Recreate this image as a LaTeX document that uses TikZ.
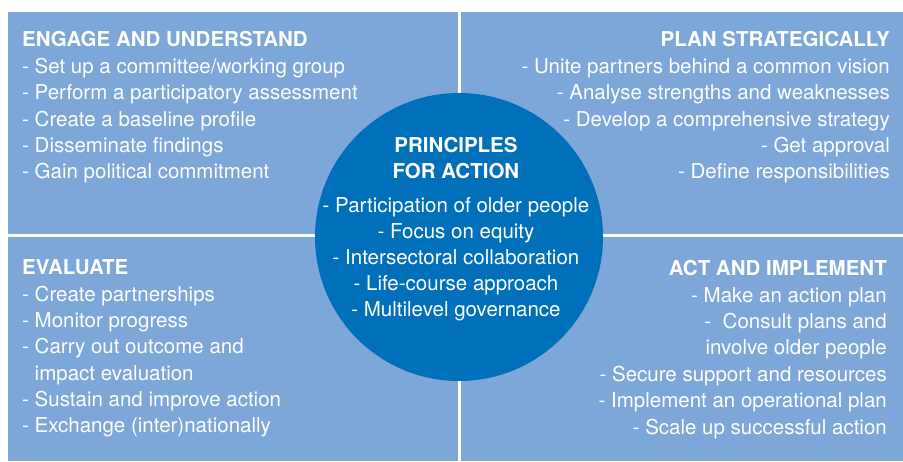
\documentclass[tikz,border=0pt]{standalone}
\usepackage{fontspec}
\setmainfont{TeX Gyre Heros}
\definecolor{quadblue}{RGB}{125,167,216}
\definecolor{hubblue}{RGB}{0,112,186}
\tikzset{
  steptext/.style={text=white, inner sep=0pt, font=\fontsize{20.5}{26.4}\selectfont},
  hubdisc/.style={circle, fill=hubblue, minimum size=288pt, inner sep=0pt},
}

\begin{document}
\begin{tikzpicture}[x=1pt,y=1pt]
  \useasboundingbox (0,0) rectangle (903,461);
  % quadrants
  \fill[quadblue] (8,0) rectangle (903,449);
  \draw[white, line width=3pt] (459,0) -- (459,449);
  \draw[white, line width=3pt] (8,225) -- (903,225);
  % centre
  \node[hubdisc] (hub) at (459,224) {};
  \node[steptext, font=\fontsize{20.5}{26}\selectfont, align=center, anchor=base] %
    (principles) at (456,144)
    {\textbf{PRINCIPLES}\\\textbf{FOR ACTION}\\[8pt]
     - Participation of older people\\- Focus on equity\\
     - Intersectoral collaboration\\- Life-course approach\\
     - Multilevel governance};
  % texts of the quadrants (anchored on their last line)
  \node[steptext, align=left, anchor=base west] (engage) at (22,282) %
    {\textbf{ENGAGE AND UNDERSTAND}\\- Set up a committee/working group\\
     - Perform a participatory assessment\\- Create a baseline profile\\
     - Disseminate findings\\- Gain political commitment};
  \node[steptext, align=right, anchor=base east] (plan) at (890,282) %
    {\textbf{PLAN STRATEGICALLY}\\- Unite partners behind a common vision\\
     - Analyse strengths and weaknesses\\- Develop a comprehensive strategy\\
     - Get approval\\- Define responsibilities};
  \node[steptext, align=left, anchor=base west] (evaluate) at (22,28) %
    {\textbf{EVALUATE}\\- Create partnerships\\- Monitor progress\\
     - Carry out outcome and\\\hphantom{- }impact evaluation\\
     - Sustain and improve action\\- Exchange (inter)nationally};
  \node[steptext, align=right, anchor=base east] (act) at (887,27) %
    {\textbf{ACT AND IMPLEMENT}\\- Make an action plan\\-\ \ Consult plans and\\
     involve older people\ \\- Secure support and resources\\
     - Implement an operational plan\\- Scale up successful action};
\end{tikzpicture}
\end{document}
